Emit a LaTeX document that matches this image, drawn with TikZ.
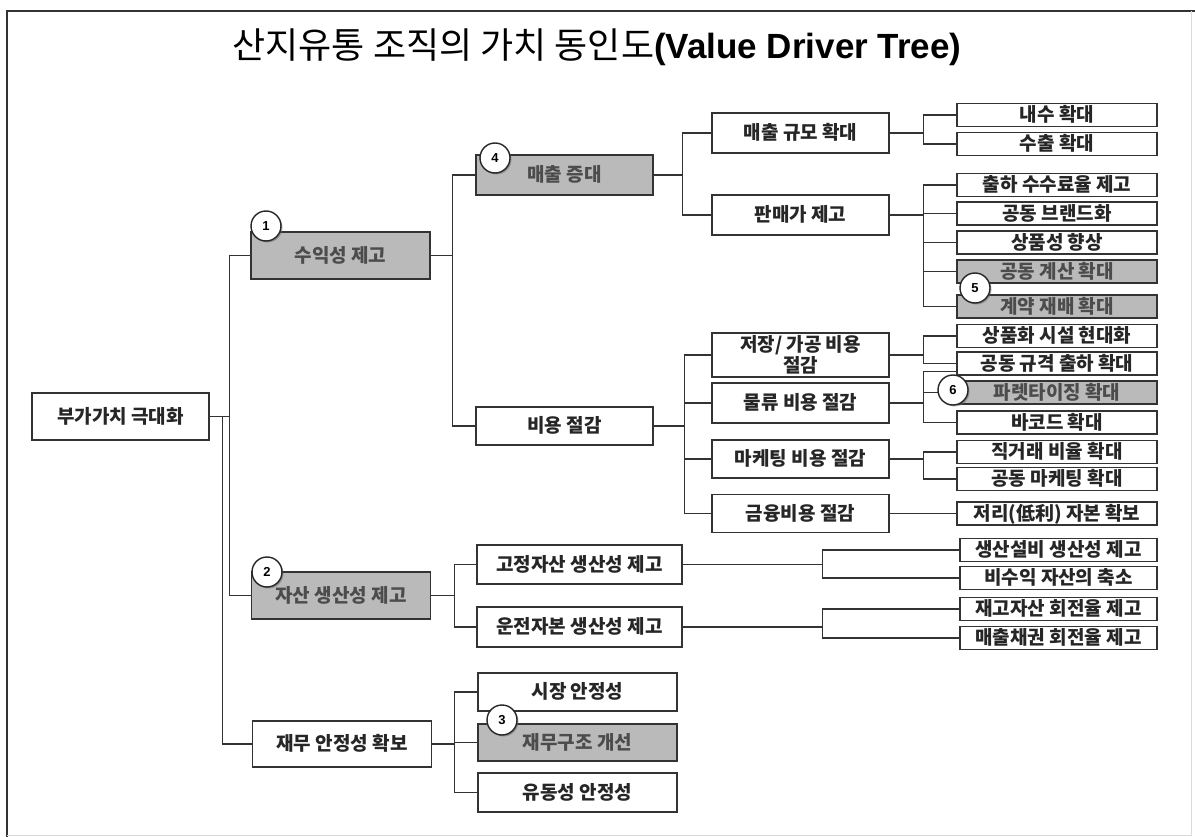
\documentclass[tikz,border=0pt]{standalone}
\usepackage{fontspec}
\setmainfont{Liberation Sans}
\newfontfamily\kr{Noto Sans CJK KR}
\usetikzlibrary{shadows}
\begin{document}
\begin{tikzpicture}[x=1pt,y=-1pt]
		\tikzset{kasten/.style={rectangle, draw=black!80, line width=1.6pt, fill=white, inner sep=0pt, text height=14.5pt, text depth=1pt, text=black!85, font=\kr\bfseries\fontsize{19}{22}\selectfont},
		grau/.style={fill=black!27, text=black!70},
		mitte/.style={minimum width=177pt, minimum height=40pt},
		blatt/.style={minimum width=200pt, minimum height=23pt},
		nummer/.style={circle, draw=black!85, line width=1.4pt, fill=white, minimum size=30pt, inner sep=0pt, font=\bfseries\fontsize{13}{13}\selectfont, drop shadow={shadow xshift=1.5pt, shadow yshift=-1.5pt, fill=black!60}},
		linie/.style={draw=black!80, line width=1.3pt}}
        \useasboundingbox (0,0) rectangle (1195,837);
        % Rahmen
        \draw[line width=2pt, black!80] (7,837) -- (7,11) -- (1195,11);
        \draw[line width=1pt, black!15] (1191,11) -- (1191,835) -- (7,835);

        \node at (597,47) (titel) {{\kr\fontsize{36}{40}\selectfont 산지유통 조직의 가치 동인도}{\bfseries\fontsize{35}{40}\selectfont(Value Driver Tree)}};

        \node[kasten, minimum width=177pt, minimum height=47pt] at (120.5,416.5) (rt) {부가가치 극대화};

        \node[kasten, grau, minimum width=179pt, minimum height=47pt] at (340.5,255.5) (s1) {수익성 제고};
        \node[kasten, grau, minimum width=179pt, minimum height=47pt] at (341,595.5) (s2) {자산 생산성 제고};
        \node[kasten, minimum width=179pt, minimum height=46pt] at (342,744) (s3) {재무 안정성 확보};

        \node[kasten, grau, mitte] at (564.5,175) (m1) {매출 증대};
        \node[kasten, mitte, minimum height=38pt] at (564.5,426) (m2) {비용 절감};

        \node[kasten, minimum width=205pt, minimum height=39pt] at (579.5,564.5) (a1) {고정자산 생산성 제고};
        \node[kasten, minimum width=205pt, minimum height=40pt] at (579.5,627) (a2) {운전자본 생산성 제고};

        \node[kasten, minimum width=199pt, minimum height=38pt] at (577.5,692) (f1) {시장 안정성};
        \node[kasten, grau, minimum width=199pt, minimum height=37pt] at (577.5,742.5) (f2) {재무구조 개선};
        \node[kasten, minimum width=199pt, minimum height=39pt] at (577.5,792.5) (f3) {유동성 안정성};

        \node[kasten, mitte] at (800.5,133) (c1) {매출 규모 확대};
        \node[kasten, mitte] at (800.5,215) (c2) {판매가 제고};
        \node[kasten, mitte, minimum height=44pt, text height=, text depth=, align=center, font=\kr\bfseries\fontsize{19}{21}\selectfont] at (800.5,355) (c3) {저장/ 가공 비용\\절감};
        \node[kasten, mitte] at (800.5,403) (c4) {물류 비용 절감};
        \node[kasten, mitte, minimum height=38pt] at (800.5,459) (c5) {마케팅 비용 절감};
        \node[kasten, mitte, minimum height=38pt] at (800.5,513.5) (c6) {금융비용 절감};

        \node[kasten, blatt] at (1057,115) (d1) {내수 확대};
        \node[kasten, blatt] at (1057,144) (d2) {수출 확대};
        \node[kasten, blatt] at (1057,185) (d3) {출하 수수료율 제고};
        \node[kasten, blatt] at (1057,213.5) (d4) {공동 브랜드화};
        \node[kasten, blatt] at (1057,242.5) (d5) {상품성 향상};
        \node[kasten, blatt, grau] at (1057,271.5) (d6) {공동 계산 확대};
        \node[kasten, blatt, grau] at (1057,306.5) (d7) {계약 재배 확대};
        \node[kasten, blatt] at (1057,336) (d8) {상품화 시설 현대화};
        \node[kasten, blatt] at (1057,363.5) (d9) {공동 규격 출하 확대};
        \node[kasten, blatt, grau] at (1057,392.5) (d10) {파렛타이징 확대};
        \node[kasten, blatt] at (1057,422.5) (d11) {바코드 확대};
        \node[kasten, blatt] at (1057,452) (d12) {직거래 비율 확대};
        \node[kasten, blatt] at (1057,479) (d13) {공동 마케팅 확대};
        \node[kasten, blatt] at (1057,513.5) (d14) {저리(低利) 자본 확보};

        \node[kasten, blatt, minimum width=197pt] at (1058.5,550) (e1) {생산설비 생산성 제고};
        \node[kasten, blatt, minimum width=197pt] at (1058.5,578) (e2) {비수익 자산의 축소};
        \node[kasten, blatt, minimum width=197pt] at (1058.5,609) (e3) {재고자산 회전율 제고};
        \node[kasten, blatt, minimum width=197pt] at (1058.5,638) (e4) {매출채권 회전율 제고};

			\draw[linie] (rt.east) -- ++(20,0) |- (s1.west);
			\draw[linie] (rt.east) -- ++(20,0) |- (s2.west);
			\draw[linie] (rt.east) -- ++(13,0) |- (s3.west);

			\draw[linie] (s1.east) -- ++(22,0) |- (m1.west);
			\draw[linie] (s1.east) -- ++(22,0) |- (m2.west);

			\draw[linie] (m1.east) -- ++(29,0) |- (c1.west);
			\draw[linie] (m1.east) -- ++(29,0) |- (c2.west);

			\draw[linie] (m2.east) -- ++(31,0) |- (c3.west);
			\draw[linie] (m2.east) -- ++(31,0) |- (c4.west);
			\draw[linie] (m2.east) -- ++(31,0) |- (c5.west);
			\draw[linie] (m2.east) -- ++(31,0) |- (c6.west);

			\draw[linie] (c1.east) -- ++(34,0) |- (d1.west);
			\draw[linie] (c1.east) -- ++(34,0) |- (d2.west);

			\draw[linie] (c2.east) -- ++(34,0) |- (d3.west);
			\draw[linie] (c2.east) -- ++(34,0) |- (d4.west);
			\draw[linie] (c2.east) -- ++(34,0) |- (d5.west);
			\draw[linie] (c2.east) -- ++(34,0) |- (d6.west);
			\draw[linie] (c2.east) -- ++(34,0) |- (d7.west);

			\draw[linie] (c3.east) -- ++(34,0) |- (d8.west);
			\draw[linie] (c3.east) -- ++(34,0) |- (d9.west);

			\draw[linie] (c4.east) -- ++(34,0) |- ([yshift=-8pt]d9.west);
			\draw[linie] (c4.east) -- ++(34,0) |- (d10.west);
			\draw[linie] (c4.east) -- ++(34,0) |- (d11.west);

			\draw[linie] (c5.east) -- ++(34,0) |- (d12.west);
			\draw[linie] (c5.east) -- ++(34,0) |- (d13.west);

			\draw[linie] (c6.east) -- (d14.west);

			\draw[linie] (s2.east) -- ++(23,0) |- (a1.west);
			\draw[linie] (s2.east) -- ++(23,0) |- (a2.west);

			\draw[linie] (a1.east) -- ++(140,0) |- (e1.west);
			\draw[linie] (a1.east) -- ++(140,0) |- (e2.west);
			\draw[linie] (a2.east) -- ++(140,0) |- (e3.west);
			\draw[linie] (a2.east) -- ++(140,0) |- (e4.west);

			\draw[linie] (s3.east) -- ++(22,0) |- (f1.west);
			\draw[linie] (s3.east) -- ++(22,0) |- (f2.west);
			\draw[linie] (s3.east) -- ++(22,0) |- (f3.west);

			% Nummern
        \node[nummer] at (266,226) (n1) {1};
        \node[nummer] at (267,572) (n2) {2};
        \node[nummer] at (502,720) (n3) {3};
        \node[nummer] at (495,158) (n4) {4};
        \node[nummer] at (975,288) (n5) {5};
        \node[nummer] at (953,390) (n6) {6};

	\end{tikzpicture}
\end{document}
